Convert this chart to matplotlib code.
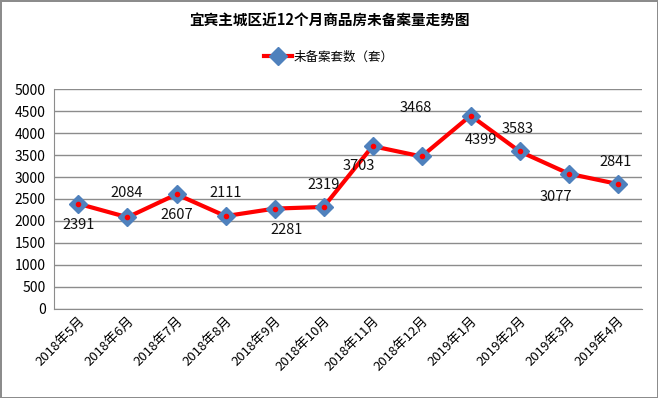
import matplotlib.pyplot as plt

plt.rcParams['font.family'] = ['Noto Sans CJK SC', 'DejaVu Sans']

# データ
months = ['2018年5月', '2018年6月', '2018年7月', '2018年8月', '2018年9月', '2018年10月',
          '2018年11月', '2018年12月', '2019年1月', '2019年2月', '2019年3月', '2019年4月']
units = [2391, 2084, 2607, 2111, 2281, 2319, 3703, 3468, 4399, 3583, 3077, 2841]
# ラベル位置(ピクセル単位のずれ)
label_dx = [0, -1, 0, 0, 12, 0, -14, -6, 10, -2, -13, -2]
label_dy = [-21, 24, -21, 23, -21, 22, -20, 48, -24, 22, -23, 22]

fig = plt.figure(figsize=(6.58, 3.98), dpi=100)
fig.patch.set_edgecolor('#8c8c8c')
fig.patch.set_linewidth(2)
ax = fig.add_axes([0.082, 0.224, 0.894, 0.552])

x = list(range(len(months)))
ax.plot(x, units, color='#ff0000', lw=3, marker='D', ms=9,
        markerfacecolor='#4f81bd', markeredgecolor='#4f81bd', label='未备案套数（套）', zorder=3)
ax.plot(x, units, ls='none', marker='o', ms=3, color='#ff0000', zorder=4)

for i, v in enumerate(units):
    ax.annotate(str(v), (i, v), xytext=(label_dx[i], label_dy[i]), textcoords='offset pixels',
                ha='center', va='center', fontsize=10.5, color='#111111')

ax.set_xlim(-0.5, len(months) - 0.5)
ax.set_ylim(0, 5000)
ax.set_yticks(range(0, 5001, 500))
ax.set_xticks(x)
ax.set_xticklabels(months, rotation=45, ha='right', rotation_mode='anchor', fontsize=9.5)
ax.tick_params(axis='y', length=0, labelsize=10, pad=6)
ax.tick_params(axis='x', length=0, pad=4)
ax.grid(axis='y', color='#8c8c8c', lw=1)
ax.set_axisbelow(True)
for s in ['top', 'right']:
    ax.spines[s].set_visible(False)
for s in ['left', 'bottom']:
    ax.spines[s].set_color('#8c8c8c')

fig.text(0.5, 0.948, '宜宾主城区近12个月商品房未备案量走势图', ha='center', va='center',
         fontsize=10.5, fontweight='bold')
fig.legend(loc='center', bbox_to_anchor=(0.5, 0.857), frameon=False, fontsize=9,
           handlelength=2.2, handletextpad=0.2)

fig.savefig('out.png', dpi=100)
